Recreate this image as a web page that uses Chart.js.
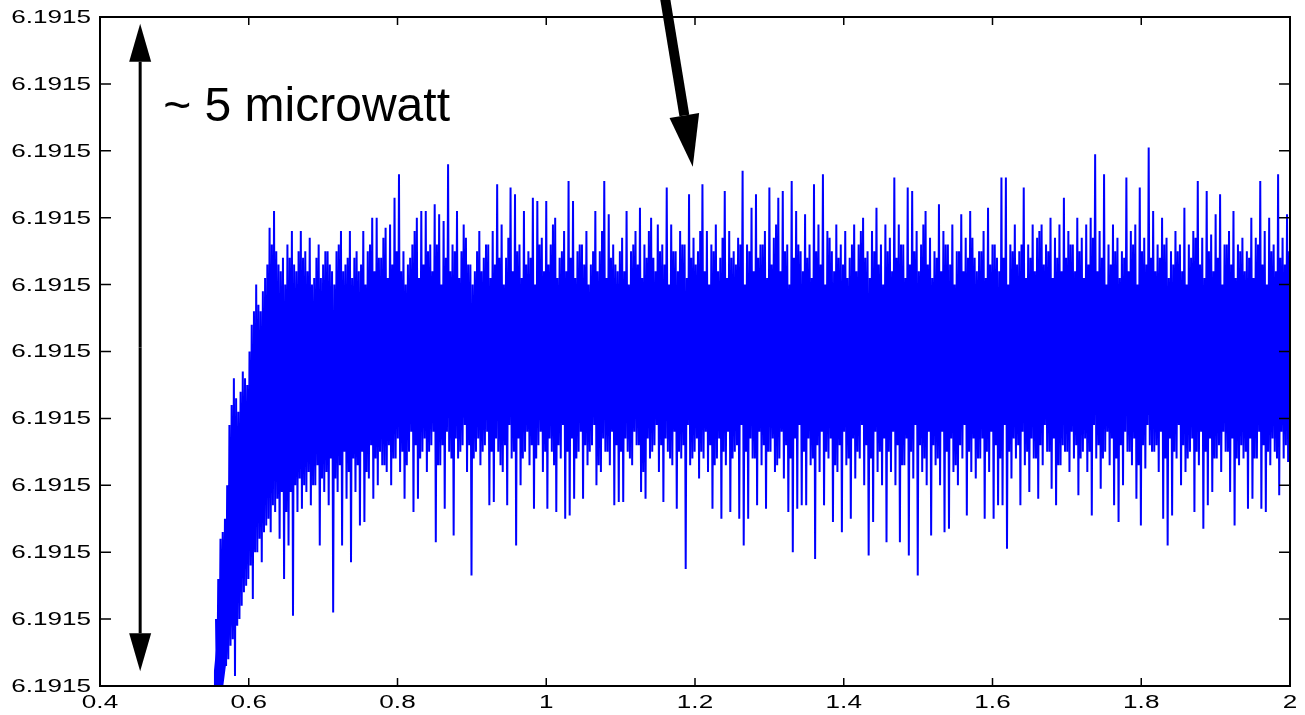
<!DOCTYPE html>
<html>
<head>
<meta charset="utf-8">
<script src="https://cdn.jsdelivr.net/npm/chart.js@4.4.1/dist/chart.umd.min.js"></script>
<style>
  html, body { margin: 0; padding: 0; background: #fff; }
  canvas { display: block; }
</style>
</head>
<body>
<canvas id="powerChart" width="1305" height="715"></canvas>
<script>
// axis ticks; every y tick prints as 6.1915 in the original
const xTicks = [0.4, 0.6, 0.8, 1.0, 1.2, 1.4, 1.6, 1.8, 2.0];
const xTickLabels = ["0.4", "0.6", "0.8", "1", "1.2", "1.4", "1.6", "1.8", "2"];
const yTicks = [0, 1, 2, 3, 4, 5, 6, 7, 8, 9, 10];
const yTickLabels = ["6.1915", "6.1915", "6.1915", "6.1915", "6.1915", "6.1915",
                     "6.1915", "6.1915", "6.1915", "6.1915", "6.1915"];

// trace samples, sampleStep apart from sampleStart, in the order
// peak, dip, small peak, small dip, peak, dip, ...
const sampleStart = 0.556;
const sampleStep = 0.0015;

const peakValues = [
    1.0, 2.2, 2.5, 3.9, 4.6, 4.1, 4.7, 4.5, 5.4, 6.0,
    5.6, 6.1, 6.85, 7.1, 6.3, 6.4, 6.6, 6.8, 6.2, 6.8,
    6.5, 6.7, 6.1, 6.6, 6.3, 6.5, 6.2, 6.5, 6.8, 6.3,
    6.8, 6.4, 6.2, 6.8, 6.5, 7.0, 7.0, 6.4, 6.85, 6.9,
    7.3, 7.65, 6.5, 6.3, 6.6, 7.0, 7.1, 7.1, 6.6, 7.2,
    7.05, 6.95, 7.8, 6.6, 7.1, 6.5, 6.7, 6.3, 6.2, 6.8,
    6.4, 6.6, 6.8, 7.5, 6.9, 6.4, 7.45, 7.35, 6.6, 7.1,
    6.5, 7.3, 7.25, 6.7, 7.25, 6.6, 7.0, 6.4, 6.8, 7.55,
    7.25, 6.5, 6.6, 6.8, 6.3, 7.1, 6.5, 7.55, 7.05, 6.6,
    6.2, 6.7, 7.1, 6.5, 6.8, 7.15, 6.6, 6.8, 6.4, 6.9,
    6.6, 7.45, 6.9, 6.5, 6.8, 6.6, 7.35, 6.7, 6.5, 7.5,
    6.8, 6.6, 6.9, 6.4, 7.4, 6.8, 6.5, 6.7, 7.7, 6.6,
    7.15, 7.35, 6.6, 6.8, 7.45, 6.7, 7.3, 7.4, 6.6, 7.55,
    7.1, 6.5, 7.05, 6.6, 7.5, 6.9, 7.65, 6.8, 6.5, 6.9,
    6.6, 6.8, 6.4, 6.9, 6.6, 7.0, 6.5, 6.8, 7.15, 6.6,
    6.9, 6.7, 7.6, 6.9, 6.6, 7.45, 7.4, 6.8, 6.6, 7.1,
    6.7, 6.5, 7.2, 6.8, 6.6, 6.9, 6.5, 7.05, 6.7, 7.1,
    6.4, 6.5, 6.8, 7.15, 6.6, 6.4, 7.6, 7.6, 6.6, 6.9,
    6.5, 7.45, 6.6, 6.9, 6.7, 6.9, 6.6, 7.0, 6.7, 6.9,
    7.3, 6.8, 6.6, 7.0, 6.7, 6.9, 7.0, 7.95, 6.8, 7.65,
    6.6, 6.9, 6.7, 6.5, 7.6, 6.8, 6.9, 7.45, 6.7, 8.05,
    7.1, 6.6, 7.0, 6.7, 6.5, 6.8, 6.6, 7.15, 6.6, 6.8,
    7.55, 6.7, 7.4, 6.75, 7.05, 7.35, 6.6, 6.8, 7.1, 6.6,
    6.7, 6.5, 7.0, 6.7, 7.55, 6.8, 7.0, 6.6, 7.65, 6.7, 7.05
];

const dipValues = [
    -0.3, 0.1, 0.3, 0.6, 0.15, 1.0, 1.4, 1.6, 1.3, 2.0,
    1.85, 2.4, 2.3, 2.6, 2.2, 1.6, 2.1, 1.05, 2.6, 2.65,
    2.9, 2.7, 3.0, 2.1, 2.9, 2.7, 1.1, 2.9, 2.1, 2.8,
    1.85, 2.9, 2.4, 2.45, 3.1, 2.8, 3.0, 3.3, 3.2, 3.0,
    3.4, 3.2, 2.8, 3.5, 2.6, 2.8, 3.5, 3.2, 3.6, 2.15,
    3.3, 2.65, 3.5, 2.25, 3.4, 3.6, 3.2, 1.65, 3.5, 3.3,
    3.6, 2.7, 2.75, 3.5, 3.2, 2.7, 3.4, 2.1, 3.0, 3.5,
    3.3, 2.65, 3.6, 3.2, 2.65, 3.5, 2.6, 3.4, 2.5, 2.55,
    2.8, 3.5, 2.8, 3.3, 3.6, 3.0, 3.2, 3.5, 3.3, 2.7,
    2.75, 2.75, 3.5, 3.3, 3.6, 2.9, 2.8, 3.4, 3.6, 3.2,
    2.75, 3.5, 3.3, 2.65, 3.4, 1.75, 3.3, 3.5, 3.1, 3.4,
    3.2, 2.65, 3.4, 2.5, 3.3, 2.6, 3.5, 2.5, 2.1, 2.5,
    3.4, 2.7, 3.3, 2.65, 3.5, 3.2, 3.4, 3.1, 2.6, 2.0,
    2.65, 2.7, 2.7, 3.3, 1.9, 3.2, 2.7, 3.4, 2.45, 3.2,
    2.3, 3.3, 2.5, 3.1, 3.4, 3.0, 1.95, 2.45, 3.2, 3.0,
    2.15, 3.2, 3.0, 2.15, 3.3, 1.95, 3.1, 1.65, 3.2, 3.0,
    2.25, 3.3, 3.0, 2.3, 2.35, 3.2, 3.0, 3.4, 2.55, 3.2,
    3.1, 3.4, 2.5, 3.2, 2.5, 2.7, 2.7, 2.05, 3.1, 3.4,
    2.7, 3.3, 2.9, 3.4, 2.8, 3.3, 3.5, 2.95, 2.7, 3.3,
    3.5, 3.2, 3.4, 2.85, 3.5, 3.2, 2.55, 3.4, 2.95, 3.5,
    3.3, 2.7, 2.45, 3.0, 3.5, 3.3, 2.8, 2.4, 3.25, 3.6,
    3.5, 3.2, 2.5, 2.1, 2.55, 3.4, 3.0, 3.2, 3.5, 2.6,
    3.3, 2.35, 2.7, 2.9, 3.4, 3.2, 3.5, 2.9, 2.4, 3.3,
    3.4, 2.65, 2.8, 3.4, 2.65, 2.6, 3.3, 3.5, 2.85, 3.4, 3.35
];

const smallPeakValues = [
    1.6, 2.3, 3.0, 4.2, 4.3, 4.4, 4.6, 5.0, 5.6, 5.7,
    5.9, 6.3, 6.6, 6.5, 6.2, 6.0, 6.4, 6.3, 6.5, 6.4,
    6.2, 6.0, 6.4, 6.1, 6.5, 6.3, 6.0, 6.6, 6.2, 6.4,
    6.1, 6.5, 6.3, 6.0, 6.6, 6.2, 6.4, 6.7, 6.1, 6.3,
    6.5, 6.2, 6.0, 6.4, 6.8, 6.1, 6.3, 6.5, 6.2, 6.6,
    6.0, 6.4, 6.2, 6.5, 6.1, 6.9, 6.3, 6.0, 6.5, 6.2,
    6.6, 6.1, 6.3, 6.4, 6.0, 6.7, 6.2, 6.5, 6.1, 6.3,
    6.4, 6.0, 6.6, 6.2, 6.3, 6.9, 6.1, 6.5, 6.2, 6.4,
    6.1, 6.6, 6.3, 6.0, 6.5, 6.2, 6.8, 6.1, 6.4, 6.3,
    6.5, 6.2, 6.0, 6.6, 6.3, 6.1, 6.4, 7.0, 6.2, 6.5,
    6.3, 6.0, 6.5, 6.2, 6.6, 6.1, 6.4, 6.3, 6.8, 6.2,
    6.0, 6.5, 6.2, 6.7, 6.1, 6.4, 6.3, 6.6, 6.0, 6.5,
    6.2, 6.4, 6.6, 6.1, 6.3, 6.9, 6.2, 6.5, 6.0, 6.4,
    6.6, 6.2, 6.4, 6.1, 6.5, 6.3, 6.0, 6.7, 6.2, 6.4,
    6.3, 6.1, 6.6, 6.2, 6.8, 6.4, 6.1, 6.5, 6.3, 6.0,
    6.5, 6.2, 6.4, 6.6, 6.1, 6.3, 6.5, 6.2, 6.9, 6.3,
    6.1, 6.4, 6.2, 6.6, 6.3, 6.0, 6.5, 6.2, 6.4, 6.7,
    6.2, 6.5, 6.1, 6.3, 6.6, 6.2, 6.4, 6.0, 6.5, 6.3,
    6.6, 6.1, 6.4, 6.2, 6.8, 6.3, 6.5, 6.1, 6.4, 6.2,
    6.4, 6.6, 6.2, 6.5, 6.1, 6.3, 6.7, 6.2, 6.4, 6.0,
    6.3, 6.5, 6.1, 6.4, 6.2, 6.6, 6.0, 6.5, 6.3, 6.4,
    6.2, 6.4, 6.6, 6.1, 6.3, 6.5, 6.2, 6.0, 6.4, 6.7,
    6.3, 6.1, 6.5, 6.2, 6.4, 6.0, 6.6, 6.3, 6.1, 6.5,
    6.2, 6.4, 6.1, 6.6, 6.3, 6.0, 6.5, 6.2, 6.4, 6.3, 6.5
];

const smallDipValues = [
    -0.2, 0.2, 0.4, 0.7, 0.9, 1.2, 1.5, 1.8, 2.0, 2.2,
    2.3, 2.5, 2.7, 2.8, 2.9, 2.6, 2.9, 3.0, 3.1, 3.0,
    3.2, 3.0, 3.3, 3.1, 3.2, 3.4, 3.1, 3.3, 3.5, 3.2,
    3.4, 3.3, 3.5, 3.2, 3.6, 3.4, 3.5, 3.3, 3.6, 3.4,
    3.7, 3.5, 3.3, 3.8, 3.6, 3.4, 3.7, 3.5, 3.8, 3.3,
    3.6, 3.8, 3.4, 3.7, 3.5, 3.9, 3.6, 3.4, 3.7, 3.5,
    3.8, 3.5, 3.7, 3.3, 3.6, 3.9, 3.5, 3.7, 3.4, 3.8,
    3.6, 3.4, 3.8, 3.5, 3.7, 3.3, 3.6, 3.9, 3.5, 3.7,
    3.4, 3.8, 3.6, 3.5, 3.9, 3.3, 3.7, 3.5, 3.8, 3.6,
    3.5, 3.7, 3.4, 3.8, 3.6, 3.2, 3.7, 3.5, 3.9, 3.6,
    3.7, 3.4, 3.8, 3.5, 3.6, 3.9, 3.4, 3.7, 3.5, 3.8,
    3.6, 3.3, 3.7, 3.5, 3.8, 3.4, 3.6, 3.9, 3.5, 3.7,
    3.4, 3.8, 3.6, 3.5, 3.7, 3.3, 3.8, 3.6, 3.4, 3.7,
    3.9, 3.5, 3.7, 3.4, 3.6, 3.8, 3.5, 3.7, 3.3, 3.6,
    3.8, 3.4, 3.7, 3.5, 3.9, 3.6, 3.4, 3.8, 3.5, 3.7,
    3.5, 3.8, 3.6, 3.3, 3.7, 3.5, 3.9, 3.6, 3.4, 3.8,
    3.6, 3.4, 3.8, 3.5, 3.7, 3.3, 3.6, 3.9, 3.5, 3.7,
    3.4, 3.7, 3.5, 3.8, 3.6, 3.4, 3.9, 3.5, 3.7, 3.6,
    3.8, 3.5, 3.7, 3.4, 3.6, 3.9, 3.5, 3.7, 3.3, 3.6,
    3.5, 3.8, 3.6, 3.4, 3.7, 3.5, 3.9, 3.6, 3.4, 3.8,
    3.7, 3.4, 3.6, 3.8, 3.5, 3.7, 3.3, 3.6, 3.9, 3.5,
    3.6, 3.8, 3.4, 3.7, 3.5, 3.9, 3.6, 3.4, 3.7, 3.5,
    3.8, 3.5, 3.7, 3.4, 3.6, 3.8, 3.5, 3.7, 3.4, 3.6,
    3.5, 3.7, 3.4, 3.8, 3.6, 3.5, 3.7, 3.4, 3.8, 3.6, 3.5
];

// the solid middle of the band where single lines cannot be told apart
const coreX = [0.553, 0.56, 0.575, 0.598, 0.62, 0.642, 0.686, 0.732, 0.776, 0.85, 1.0, 1.2, 1.4, 1.6, 1.8, 2.0];
const coreTop = [0.2, 1.0, 2.6, 3.8, 4.6, 5.0, 5.3, 5.5, 5.6, 5.65, 5.7, 5.7, 5.7, 5.7, 5.7, 5.7];
const coreBottom = [-0.5, -0.5, 0.8, 2.0, 2.8, 3.3, 3.6, 3.8, 3.9, 4.0, 4.05, 4.05, 4.05, 4.05, 4.05, 4.05];

// annotations, in axis units
const spanArrow = { x: 0.454, yFrom: 0.22, yTo: 9.9 };
const spanText = { x: 0.485, y: 8.45, text: "~ 5 microwatt" };
const pointerArrow = { x1: 1.158, y1: 10.4, x2: 1.197, y2: 7.76 };

const traceBlue = "#0000ff";

function buildTrace() {
    const points = [];
    peakValues.forEach((v, i) => {
        const x0 = sampleStart + 4 * i * sampleStep;
        points.push({ x: x0, y: v });
        points.push({ x: x0 + sampleStep, y: dipValues[i] });
        points.push({ x: x0 + 2 * sampleStep, y: smallPeakValues[i] });
        points.push({ x: x0 + 3 * sampleStep, y: smallDipValues[i] });
    });
    return points;
}

// matlab prints its tick labels wide, so stretch them sideways
function drawWideText(ctx, text, px, py, align) {
    ctx.save();
    ctx.translate(px, py);
    ctx.scale(1.45, 1);
    ctx.textAlign = align;
    ctx.fillText(text, 0, 0);
    ctx.restore();
}

function drawArrow(ctx, x1, y1, x2, y2, shaft, headLen, headWidth) {
    const ang = Math.atan2(y2 - y1, x2 - x1);
    const bx = x2 - headLen * Math.cos(ang);
    const by = y2 - headLen * Math.sin(ang);
    ctx.lineWidth = shaft;
    ctx.beginPath();
    ctx.moveTo(x1, y1);
    ctx.lineTo(bx, by);
    ctx.stroke();
    ctx.beginPath();
    ctx.moveTo(x2, y2);
    ctx.lineTo(bx + headWidth / 2 * Math.sin(ang), by - headWidth / 2 * Math.cos(ang));
    ctx.lineTo(bx - headWidth / 2 * Math.sin(ang), by + headWidth / 2 * Math.cos(ang));
    ctx.closePath();
    ctx.fill();
}

const matlabAxes = {
    id: "matlabAxes",
    afterDatasetsDraw(chart) {
        const { ctx, chartArea: a } = chart;
        const x = chart.scales.x;
        const y = chart.scales.y;

        ctx.save();
        ctx.strokeStyle = "#000";
        ctx.fillStyle = "#000";

        // box
        ctx.lineWidth = 2;
        ctx.strokeRect(a.left, a.top, a.right - a.left, a.bottom - a.top);

        // inward ticks on all four sides
        ctx.lineWidth = 1.5;
        ctx.beginPath();
        xTicks.forEach(v => {
            const px = x.getPixelForValue(v);
            ctx.moveTo(px, a.bottom); ctx.lineTo(px, a.bottom - 8);
            ctx.moveTo(px, a.top); ctx.lineTo(px, a.top + 8);
        });
        yTicks.forEach(v => {
            const py = y.getPixelForValue(v);
            ctx.moveTo(a.left, py); ctx.lineTo(a.left + 11, py);
            ctx.moveTo(a.right, py); ctx.lineTo(a.right - 11, py);
        });
        ctx.stroke();

        // tick labels
        ctx.font = '18px "Liberation Sans", Arial, sans-serif';
        ctx.textBaseline = "middle";
        yTicks.forEach((v, i) => {
            drawWideText(ctx, yTickLabels[i], a.left - 9, y.getPixelForValue(v) + 1, "right");
        });
        xTicks.forEach((v, i) => {
            drawWideText(ctx, xTickLabels[i], x.getPixelForValue(v), a.bottom + 17, "center");
        });

        // double arrow spanning the axis
        const ax = x.getPixelForValue(spanArrow.x);
        const ay1 = y.getPixelForValue(spanArrow.yFrom);
        const ay2 = y.getPixelForValue(spanArrow.yTo);
        const mid = (ay1 + ay2) / 2;
        drawArrow(ctx, ax, mid, ax, ay2, 3, 38, 22);
        drawArrow(ctx, ax, mid, ax, ay1, 3, 38, 22);

        ctx.font = '48px "Liberation Sans", Arial, sans-serif';
        ctx.textBaseline = "alphabetic";
        ctx.textAlign = "left";
        ctx.fillText(spanText.text, x.getPixelForValue(spanText.x), y.getPixelForValue(spanText.y));

        // big pointer from the top
        drawArrow(ctx,
            x.getPixelForValue(pointerArrow.x1), y.getPixelForValue(pointerArrow.y1),
            x.getPixelForValue(pointerArrow.x2), y.getPixelForValue(pointerArrow.y2),
            10, 52, 30);

        ctx.restore();
    }
};

function renderPowerChart() {
    const ctx = document.getElementById("powerChart").getContext("2d");

    new Chart(ctx, {
        type: "line",
        data: {
            datasets: [
                {
                    label: "trace",
                    data: buildTrace(),
                    borderColor: traceBlue,
                    borderWidth: 2,
                    pointRadius: 0,
                    tension: 0,
                    fill: false
                },
                {
                    label: "core top",
                    data: coreX.map((v, i) => ({ x: v, y: coreTop[i] })),
                    borderColor: "rgba(0,0,0,0)",
                    borderWidth: 0,
                    backgroundColor: traceBlue,
                    pointRadius: 0,
                    fill: "+1"
                },
                {
                    label: "core bottom",
                    data: coreX.map((v, i) => ({ x: v, y: coreBottom[i] })),
                    borderColor: "rgba(0,0,0,0)",
                    borderWidth: 0,
                    pointRadius: 0,
                    fill: false
                }
            ]
        },
        options: {
            responsive: false,
            animation: false,
            devicePixelRatio: 1,
            layout: {
                padding: { left: 100, top: 17, right: 15, bottom: 29 }
            },
            plugins: {
                legend: { display: false },
                tooltip: { enabled: false }
            },
            scales: {
                x: { type: "linear", min: 0.4, max: 2, display: false },
                y: { type: "linear", min: 0, max: 10, display: false }
            }
        },
        plugins: [matlabAxes]
    });
}

window.addEventListener("load", renderPowerChart);
</script>
</body>
</html>
